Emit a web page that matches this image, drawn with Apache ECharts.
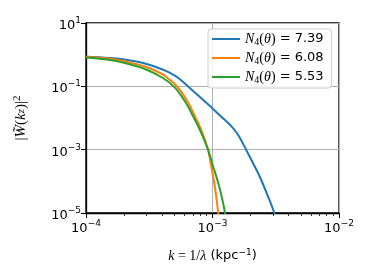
<!DOCTYPE html>
<html>
<head>
<meta charset="utf-8">
<script src="https://cdn.jsdelivr.net/npm/echarts@6/dist/echarts.min.js"></script>
<style>html,body{margin:0;padding:0;background:#fff;}#c{width:374px;height:280px;}</style>
</head>
<body>
<div id="c"></div>
<script>
const kBlue = [1.0e-4, 1.549e-4, 2.070e-4, 2.924e-4, 3.992e-4, 4.613e-4, 5.333e-4, 6.442e-4, 8.453e-4, 9.908e-4, 1.146e-3, 1.459e-3, 1.648e-3, 1.862e-3, 2.089e-3, 2.371e-3, 2.698e-3, 3.083e-3, 3.236e-3];
const wBlue = [0.863, 0.785, 0.693, 0.526, 0.345, 0.264, 0.186, 0.0975, 0.0371, 0.0207, 0.0120, 0.00473, 0.00234, 0.000929, 0.000380, 0.000137, 3.99e-5, 1.0e-5, 5.2e-6];
const kOrange = [1.0e-4, 1.549e-4, 2.070e-4, 2.924e-4, 3.992e-4, 4.446e-4, 5.167e-4, 6.252e-4, 7.499e-4, 7.962e-4, 8.730e-4, 9.268e-4, 9.727e-4, 1.033e-3, 1.112e-3, 1.135e-3];
const wOrange = [0.863, 0.746, 0.600, 0.423, 0.245, 0.177, 0.106, 0.0371, 0.00865, 0.00520, 0.00202, 0.000929, 0.000328, 8.87e-5, 1.0e-5, 5.2e-6];
const kGreen = [1.0e-4, 1.549e-4, 2.070e-4, 2.924e-4, 3.992e-4, 4.958e-4, 6.067e-4, 7.278e-4, 7.962e-4, 8.730e-4, 9.268e-4, 1.009e-3, 1.112e-3, 1.189e-3, 1.256e-3, 1.291e-3];
const wGreen = [0.815, 0.679, 0.533, 0.353, 0.190, 0.0975, 0.0332, 0.00865, 0.00418, 0.00175, 0.000929, 0.000305, 8.67e-5, 2.98e-5, 1.0e-5, 5.2e-6];
const seriesNames = ['7.39', '6.08', '5.53'];
const colors = ['#1f77b4', '#ff7f0e', '#2ca02c'];
const xMinorTicks = [2e-4,3e-4,4e-4,5e-4,6e-4,7e-4,8e-4,9e-4,2e-3,3e-3,4e-3,5e-3,6e-3,7e-3,8e-3,9e-3];

function zip(a, b) { return a.map((v, i) => [v, b[i]]); }
function expLabel(v) {
  const e = Math.round(Math.log10(v));
  return '{b|10}{s|' + String(e).replace('-', '\u2212') + '}';
}
const tickRich = {
  b: {fontFamily: 'DejaVu Sans', fontSize: 13, color: '#000', lineHeight: 18, verticalAlign: 'bottom'},
  s: {fontFamily: 'DejaVu Sans', fontSize: 9, color: '#000', lineHeight: 18, verticalAlign: 'bottom', padding: [0, 0, 7, 0]}
};
const chart = echarts.init(document.getElementById('c'), null, {renderer: 'canvas'});
const data = [zip(kBlue, wBlue), zip(kOrange, wOrange), zip(kGreen, wGreen)];
chart.setOption({
  animation: false,
  backgroundColor: '#fff',
  grid: {left: 86, right: 35, top: 23, bottom: 67, show: true, borderColor: '#000', borderWidth: 1.3, backgroundColor: 'transparent'},
  legend: {
    orient: 'vertical', left: 208, top: 29,
    padding: [3, 8, 3, 4], itemGap: 4, itemWidth: 28, itemHeight: 2, itemStyle: {borderWidth: 0},
    backgroundColor: 'rgba(255,255,255,0.85)', borderColor: '#cccccc', borderWidth: 1, borderRadius: 3,
    icon: 'rect',
    data: seriesNames,
    formatter: function (name) { return '{n|N}{sub|4}{p|(}{n|θ}{p|)}{v| = ' + name + '}'; },
    textStyle: {
      rich: {
        n: {fontFamily: 'Liberation Serif', fontStyle: 'italic', fontSize: 14, color: '#000', lineHeight: 16},
        sub: {fontFamily: 'Liberation Serif', fontSize: 10, color: '#000', lineHeight: 16, verticalAlign: 'bottom'},
        p: {fontFamily: 'Liberation Serif', fontSize: 14, color: '#000', lineHeight: 16},
        v: {fontFamily: 'DejaVu Sans', fontSize: 13, color: '#000', lineHeight: 16}
      }
    }
  },
  xAxis: [{
    type: 'log', logBase: 10, min: 1e-4, max: 1e-2, interval: 1,
    axisLine: {show: true, onZero: false, lineStyle: {color: '#000', width: 1.3}},
    axisTick: {show: true, inside: false, length: 5, lineStyle: {color: '#000', width: 1}},
    axisLabel: {margin: 4, formatter: expLabel, rich: tickRich},
    splitLine: {show: true, lineStyle: {color: '#b0b0b0', width: 1}},
    minorTick: {show: false},
    name: '{i|k}{m| = 1/}{i|λ}{t| (kpc}{s|−1}{t|)}',
    nameLocation: 'middle', nameGap: 34,
    nameTextStyle: {
      rich: {
        i: {fontFamily: 'Liberation Serif', fontStyle: 'italic', fontSize: 14, color: '#000', lineHeight: 18},
        m: {fontFamily: 'Liberation Serif', fontSize: 14, color: '#000', lineHeight: 18},
        t: {fontFamily: 'DejaVu Sans', fontSize: 13, color: '#000', lineHeight: 18},
        s: {fontFamily: 'DejaVu Sans', fontSize: 9, color: '#000', lineHeight: 18, padding: [0, 0, 7, 0]}
      }
    }
  }, {
    type: 'log', logBase: 10, min: 1e-4, max: 1e-2, position: 'bottom',
    axisLine: {show: false},
    axisTick: {show: true, inside: false, length: 3, customValues: xMinorTicks, lineStyle: {color: '#000', width: 0.8}},
    axisLabel: {show: false},
    splitLine: {show: false}
  }],
  yAxis: {
    type: 'log', logBase: 10, min: 1e-5, max: 1e1, interval: 2,
    axisLine: {show: true, onZero: false, lineStyle: {color: '#000', width: 1.3}},
    axisTick: {show: true, inside: false, length: 5, lineStyle: {color: '#000', width: 1}},
    axisLabel: {margin: 5, formatter: expLabel, rich: tickRich},
    splitLine: {show: true, lineStyle: {color: '#b0b0b0', width: 1}},
    name: '{p||}{i|W̃}{p|(}{i|k}{sub|z}{p|)|}{sup|2}',
    nameLocation: 'middle', nameGap: 56, nameRotate: 90,
    nameTextStyle: {
      rich: {
        i: {fontFamily: 'Liberation Serif', fontStyle: 'italic', fontSize: 15, color: '#000', lineHeight: 18},
        p: {fontFamily: 'Liberation Serif', fontSize: 15, color: '#000', lineHeight: 18},
        sub: {fontFamily: 'Liberation Serif', fontStyle: 'italic', fontSize: 11, color: '#000', lineHeight: 18},
        sup: {fontFamily: 'Liberation Serif', fontSize: 11, color: '#000', lineHeight: 18, padding: [0, 0, 8, 0]}
      }
    }
  },
  series: seriesNames.map((n, i) => ({
    name: n, type: 'line', data: data[i], xAxisIndex: 0,
    showSymbol: false, smooth: 0.4, clip: true,
    lineStyle: {color: colors[i], width: 2},
    itemStyle: {color: colors[i]}
  }))
});
</script>
</body>
</html>
